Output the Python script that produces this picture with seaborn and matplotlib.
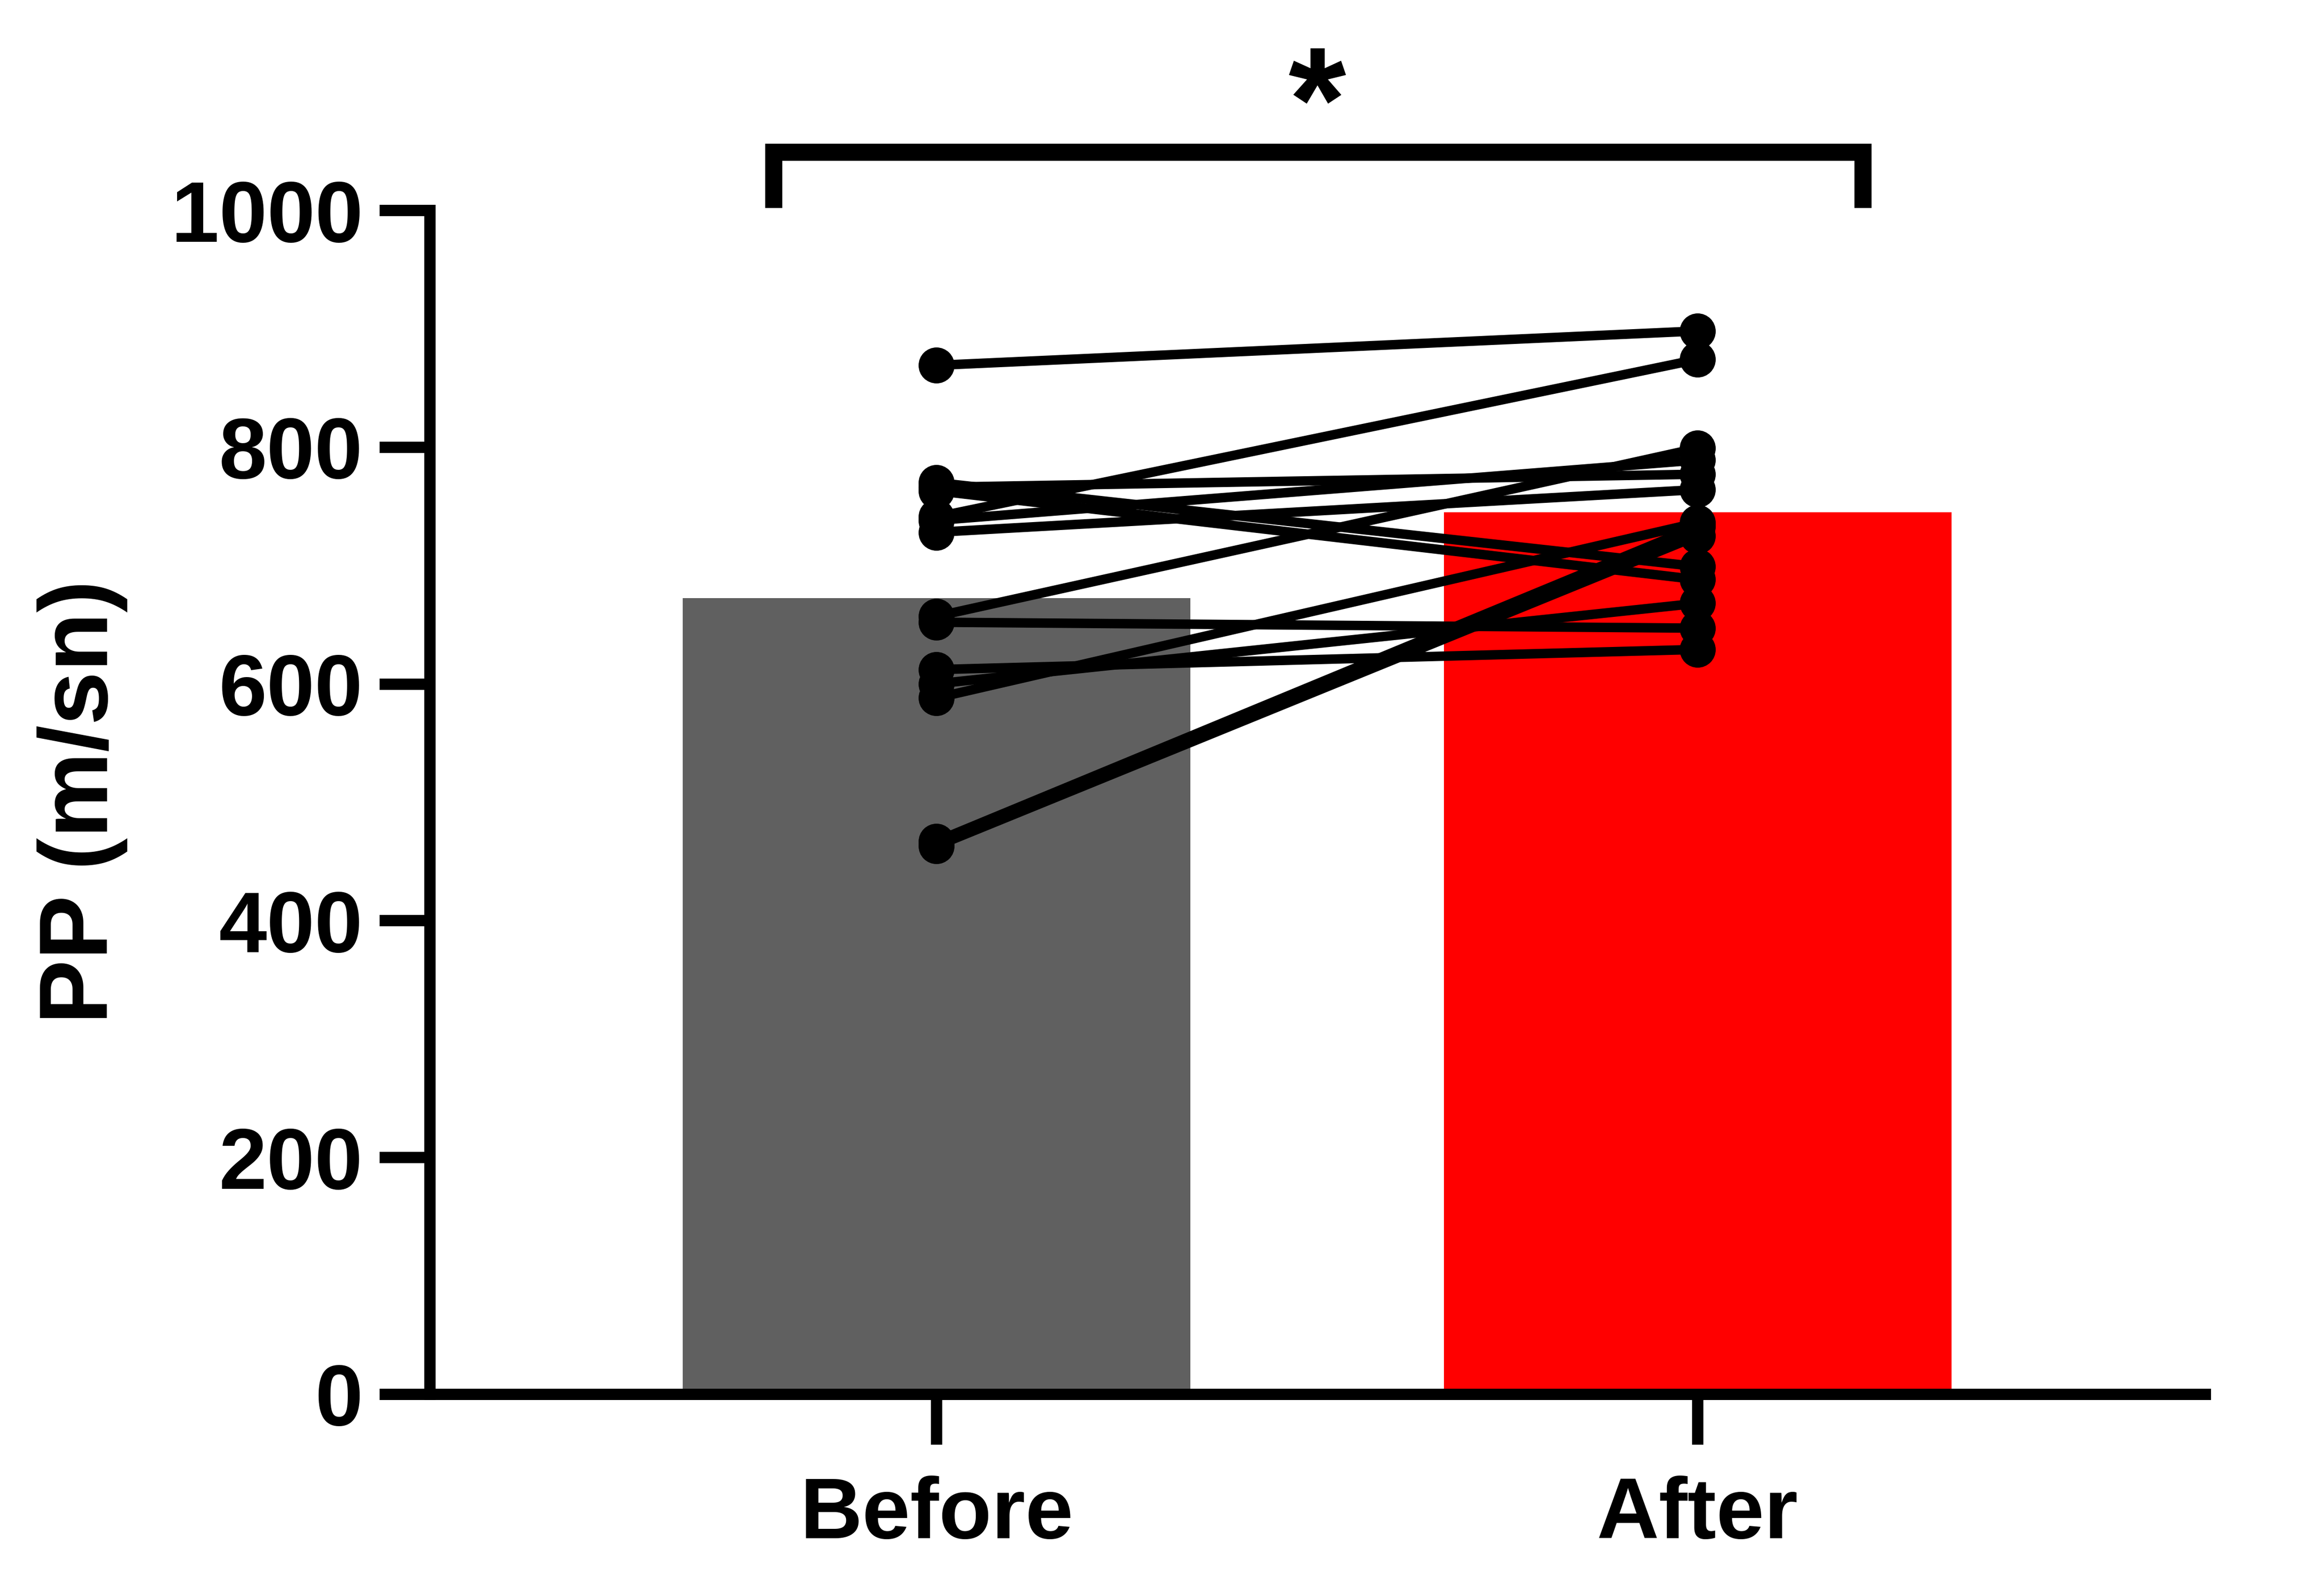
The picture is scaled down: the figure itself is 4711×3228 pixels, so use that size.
import numpy as np
import matplotlib
matplotlib.use("Agg")
import matplotlib.pyplot as plt
import pandas as pd
import seaborn as sns

# paired values (one entry per subject)
before = [869, 770, 766, 763, 741, 738, 728, 657, 652, 612, 600, 588, 467, 463]
after = [898, 699, 777, 688, 874, 789, 764, 799, 647, 629, 668, 736, 733, 725]
groups = ["Before", "After"]
bar_colors = ["#606060", "#ff0000"]
y_ticks = [0, 200, 400, 600, 800, 1000]
y_label = "PP (m/sn)"
star_text = "*"

n = len(before)
df = pd.DataFrame({
    "subject": list(range(n)) * 2,
    "phase": ["Before"] * n + ["After"] * n,
    "value": before + after,
})
df["pos"] = df["phase"].map({g: i for i, g in enumerate(groups)})

sns.set_style("ticks")
plt.rcParams["font.family"] = ["Liberation Sans", "DejaVu Sans"]
plt.rcParams["font.weight"] = "bold"
plt.rcParams["text.color"] = "black"
plt.rcParams["axes.labelcolor"] = "black"
plt.rcParams["xtick.color"] = "black"
plt.rcParams["ytick.color"] = "black"

W, H = 4711, 3228
fig = plt.figure(figsize=(W / 300, H / 300), dpi=300)
ax = fig.add_axes([871 / W, 403 / H, (4470 - 871) / W, (2825 - 426) / H])

sns.barplot(data=df, x="phase", y="value", order=groups, hue="phase",
            hue_order=groups, palette=bar_colors, saturation=1,
            errorbar=None, width=0.667, linewidth=0, legend=False, ax=ax)

sns.lineplot(data=df, x="pos", y="value", units="subject", estimator=None,
             color="black", linewidth=4.6, marker="o", markersize=17.5,
             markeredgewidth=0, ax=ax, legend=False, zorder=5)

ax.set_xlim(-0.666, 1.667)
ax.set_ylim(0, 1000)
ax.set_yticks(y_ticks)
ax.set_xticks([0, 1])
ax.set_xticklabels(groups)
ax.set_xlabel("")
ax.set_ylabel(y_label, fontsize=47, fontweight="bold", labelpad=21,
              color="black")

sns.despine(ax=ax)
for side in ["left", "bottom"]:
    ax.spines[side].set_linewidth(5.5)
    ax.spines[side].set_color("black")

ax.tick_params(axis="both", length=24.5, width=5.5, color="black",
               labelcolor="black")
ax.tick_params(axis="y", labelsize=42, pad=8)
ax.tick_params(axis="x", labelsize=42, pad=15)

# significance bracket and star
ax.plot([-0.214, -0.214, 1.217, 1.217], [1002, 1049, 1049, 1002],
        color="black", lw=8.3, clip_on=False,
        solid_joinstyle="miter", solid_capstyle="butt")
ax.text(0.5, 1083, star_text, ha="center", va="center", fontsize=72,
        fontweight="bold", color="black", clip_on=False)

fig.savefig("out.png", dpi=300)
